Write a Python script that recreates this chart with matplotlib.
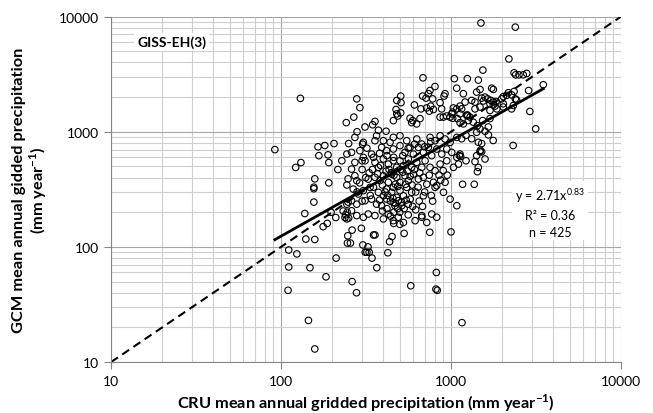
import numpy as np
import matplotlib
matplotlib.use('Agg')
import matplotlib.pyplot as plt
from matplotlib.ticker import LogLocator, NullFormatter, FixedLocator

plt.rcParams['font.family'] = ['Lato', 'DejaVu Sans']
plt.rcParams['mathtext.fontset'] = 'custom'
plt.rcParams['mathtext.rm'] = 'Lato'
plt.rcParams['mathtext.bf'] = 'Lato:bold'

# upper / right part of the cloud (CRU x, GCM y, mm/yr)
cru_upper = [1500, 2390, 2190, 1540, 2350, 2400, 2510, 2660, 2790, 3490, 2860, 2910, 3150, 2320, 1770,
             684, 1046, 1247, 1448, 1080, 1734, 1774, 805, 752, 736, 681, 713, 780, 922, 910, 1182, 1415, 1481,
             480, 506, 508, 609, 862, 1323, 1384, 1515, 1585, 1643, 1718, 1774, 1815, 1839, 1985, 2125, 2173, 2350, 2390, 2031, 2273, 2327,
             719, 746, 759, 1032, 1023, 1130, 1155, 475, 480, 506, 486, 458, 574, 595, 587, 628, 657, 666, 788, 881,
             862, 901, 943, 987, 1023, 1090, 1130, 1182, 1247, 1293, 1264, 1255, 1353, 1430, 1481, 1535, 1658, 1695,
             415, 312, 346, 357, 374, 1415, 1585, 1658,
             1155, 1225, 1323, 1448, 1515, 1481, 1490, 1585, 1225, 1415, 1384, 1515, 1448, 1430, 1170, 1370, 1130, 1120, 1140,
             1774, 1695, 1550, 1210, 1080, 1010, 1130, 1236, 1384, 1481, 1695, 1860, 2031, 2273, 2031, 2430]
gcm_upper = [8800, 8100, 4290, 3430, 3250, 3120, 3120, 3120, 3210, 2560, 2280, 1500, 1060, 760, 840,
             2940, 2890, 2890, 2810, 2390, 2390, 2330, 2470, 2280, 2140, 2040, 1960, 1930, 2140, 2040, 2140, 2210, 2330,
             1870, 2040, 1790, 1710, 1790, 1870, 1810, 1960, 2000, 1930, 1870, 1710, 1670, 1830, 1930, 2070, 2180, 2240, 1930, 1750, 1580, 1690,
             1610, 1510, 1670, 1610, 1480, 1670, 1580, 1560, 1430, 1460, 1370, 1250, 1310, 1250, 1200, 1170, 1300, 1580, 1560, 1580,
             1340, 1340, 1370, 1340, 1310, 1300, 1200, 1170, 1400, 1340, 1250, 1370, 1210, 1130, 1060, 1250, 1100, 1300,
             1010, 1100, 1150, 1230, 1030, 990, 1010, 940,
             870, 930, 870, 810, 790, 670, 690, 580, 560, 620, 550, 670, 490, 450, 350, 350, 640, 620, 610,
             1810, 1750, 1850, 1810, 1580, 1430, 1430, 1390, 1580, 1640, 1530, 1580, 1640, 2090, 2020, 1890]

# dense core around 250-1100 mm
cru_core = [272, 305, 357, 365, 400, 438, 458, 501, 549, 629, 673, 753, 806, 863, 923, 988, 1082,
            260, 291, 305, 341, 391, 418, 458, 501, 536, 574, 601, 643, 688, 736, 770, 824, 882, 944, 1010, 1082,
            260, 272, 312, 357, 374, 400, 428, 458, 479, 501, 525, 561, 587, 629, 673, 704, 753, 806, 863, 944, 1034, 1106,
            272, 279, 326, 357, 382, 400, 428, 448, 479, 501, 536, 561, 601, 643, 688, 788, 824, 923,
            266, 285, 305, 334, 374, 400, 418, 448, 458, 479, 501, 525, 549, 587, 688, 806, 903, 988, 1082,
            260, 279, 312, 341, 365, 391, 418, 458, 468, 490, 513, 561, 673, 770, 824,
            260, 279, 305, 326, 357, 400, 428, 458, 490, 525, 615, 673, 720]
gcm_core = [894, 809, 836, 923, 836, 809, 894, 923, 836, 865, 782, 894, 836, 923, 865, 809, 894,
            662, 685, 599, 640, 732, 685, 708, 757, 662, 732, 640, 732, 662, 732, 620, 708, 640, 708, 662, 599,
            474, 542, 560, 542, 491, 580, 524, 560, 491, 560, 507, 580, 491, 542, 491, 560, 491, 459, 524, 560, 491, 524,
            415, 376, 388, 402, 376, 415, 364, 429, 402, 364, 415, 376, 429, 388, 402, 364, 340, 364,
            318, 288, 308, 329, 298, 278, 318, 298, 329, 269, 308, 278, 329, 298, 278, 329, 298, 260, 228,
            252, 235, 252, 260, 235, 228, 260, 243, 228, 252, 228, 235, 187, 193, 181,
            206, 187, 181, 193, 187, 175, 193, 169, 181, 163, 169, 181, 163]

# more of the crowded middle, overlapping the core
cru_mid = [415, 432, 445, 462, 470, 486, 505, 520, 540, 555, 575, 590, 610, 620, 640, 655,
           395, 410, 425, 440, 455, 470, 485, 500, 512, 530, 545, 560, 575, 595, 620, 650, 680,
           700, 720, 745, 765, 780, 850, 870, 900, 950, 330, 345, 370, 385, 300, 315, 290, 335,
           350, 380, 395, 420, 440, 460, 350, 380, 420, 460, 520, 560, 610, 700, 760, 300, 320, 280, 300]
gcm_mid = [455, 470, 440, 420, 350, 335, 470, 445, 350, 455, 410, 345, 470, 300, 330, 440,
           345, 300, 280, 250, 265, 240, 215, 200, 245, 215, 255, 190, 260, 225, 210, 250, 225,
           300, 350, 420, 280, 250, 420, 380, 460, 420, 440, 470, 430, 510, 470, 400, 360, 280,
           330, 255, 205, 215, 185, 200, 600, 650, 620, 600, 620, 720, 780, 740, 820, 560, 720, 300, 250]

# left side (dry CRU cells)
cru_left = [92, 130, 122, 131, 158, 165, 167, 181, 189, 191, 191, 205, 216, 228, 242, 244, 248,
            244, 250, 268, 279, 291, 280, 302, 156, 156, 232, 240, 245, 238, 248, 244, 244, 250]
gcm_left = [700, 1950, 490, 540, 390, 740, 620, 760, 630, 540, 360, 790, 470, 560, 1200, 640, 390,
            345, 790, 1340, 1930, 1620, 1000, 780, 330, 320, 205, 190, 200, 180, 245, 235, 175, 178]

# low GCM values
cru_low = [138, 156, 140, 158, 177, 187, 197, 210, 111, 124, 111, 148, 211, 184, 110, 145, 158,
           262, 278, 247, 246, 256, 262, 297, 303, 325, 330, 313, 320, 343, 366,
           1160, 580, 815, 830, 820, 425, 435, 450, 357, 350, 530, 750, 1000, 500, 460]
gcm_low = [195, 245, 117, 116, 150, 160, 200, 180, 94, 87, 67, 66, 80, 55, 42, 23, 13,
           50, 40, 125, 108, 108, 140, 145, 104, 100, 90, 90, 90, 80, 66,
           22, 46, 43, 42, 60, 89, 111, 123, 127, 127, 131, 134, 135, 157, 160]

fit_a = 2.71
fit_b = 0.83
r2 = 0.36
n_pts = 425

cru = np.concatenate([cru_upper, cru_core, cru_mid, cru_left, cru_low])
gcm = np.concatenate([gcm_upper, gcm_core, gcm_mid, gcm_left, gcm_low])

fig = plt.figure(figsize=(6.53, 4.14), dpi=100)
ax = fig.add_axes([0.170, 0.123, 0.781, 0.8345])
ax.set_xscale('log')
ax.set_yscale('log')
ax.set_xlim(10, 10000)
ax.set_ylim(10, 10000)

# grid
ax.grid(True, which='major', color='#a6a6a6', lw=0.8, zorder=0)
ax.grid(True, which='minor', color='#cfcfcf', lw=0.8, zorder=0)
ax.set_axisbelow(True)
ax.xaxis.set_minor_locator(LogLocator(base=10, subs=np.arange(2, 10)))
ax.yaxis.set_minor_locator(LogLocator(base=10, subs=np.arange(2, 10)))
ax.xaxis.set_minor_formatter(NullFormatter())
ax.yaxis.set_minor_formatter(NullFormatter())
ax.xaxis.set_major_locator(FixedLocator([10, 100, 1000, 10000]))
ax.yaxis.set_major_locator(FixedLocator([10, 100, 1000, 10000]))
ax.set_xticklabels(['10', '100', '1000', '10000'])
ax.set_yticklabels(['10', '100', '1000', '10000'])
ax.tick_params(which='major', length=5, color='#868686', labelsize=10, pad=4)
ax.tick_params(which='minor', length=0)
for s in ['top', 'right']:
    ax.spines[s].set_visible(False)
for s in ['left', 'bottom']:
    ax.spines[s].set_color('#868686')
    ax.spines[s].set_linewidth(0.8)

# 1:1 line
ax.plot([10, 10000], [10, 10000], color='black', lw=1.5, ls=(0, (4, 2.5)), zorder=2)

# points
ax.scatter(cru, gcm, s=22, facecolors='none', edgecolors='black', linewidths=0.8, zorder=3)

# power fit
xf = np.logspace(np.log10(cru.min()), np.log10(cru.max()), 50)
ax.plot(xf, fit_a * xf ** fit_b, color='black', lw=2.0, zorder=4)

ax.text(0.051, 0.926, 'GISS-EH(3)', transform=ax.transAxes, fontsize=10, fontweight='bold',
        va='center', ha='left', bbox=dict(facecolor='white', edgecolor='none', pad=2), zorder=5)

ax.text(0.861, 0.435, 'y = %.2fx$^{%.2f}$\nR² = %.2f\nn = %d' % (fit_a, fit_b, r2, n_pts),
        transform=ax.transAxes, fontsize=9, ha='center', va='center', linespacing=1.5,
        bbox=dict(facecolor='white', edgecolor='none', pad=2), zorder=5)

fig.text(0.5605, 0.026, 'CRU mean annual gridded precipitation (mm year$^{\\mathbf{-1}}$)',
         fontsize=11.8, fontweight='bold', ha='center', va='center')
fig.text(0.047, 0.541, 'GCM mean annual gidded precipitation\n(mm year$^{\\mathbf{-1}}$)',
         fontsize=11.8, fontweight='bold', ha='center', va='center', rotation=90, multialignment='center',
         linespacing=1.1)

fig.savefig('out.png', dpi=100)
